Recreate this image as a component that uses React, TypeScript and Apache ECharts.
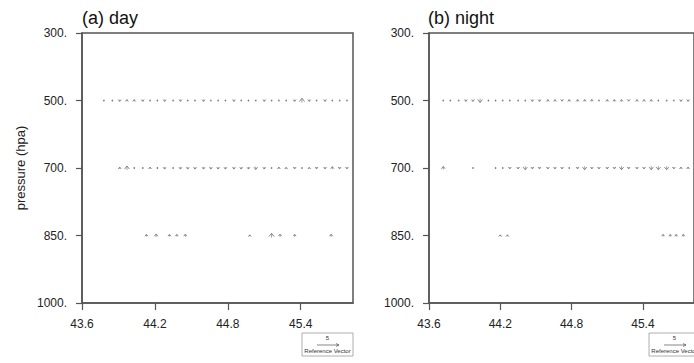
import React, { useEffect, useRef } from "react";
import * as echarts from "echarts";

// pressure levels (category axis, evenly spaced, top to bottom)
const levels = ["300.", "500.", "700.", "850.", "1000."];
// x tick labels
const xTicks = [43.6, 44.2, 44.8, 45.4];
// longitude grid for the 500 / 700 hPa rows
const lonGrid = [43.72, 43.78, 43.85, 43.91, 43.97, 44.03, 44.10, 44.16, 44.22, 44.28, 44.35, 44.41, 44.47, 44.53, 44.60, 44.66, 44.72, 44.78, 44.85, 44.91, 44.97, 45.03, 45.10, 45.16, 45.22, 45.28, 45.35, 45.41, 45.47, 45.53, 45.60, 45.66, 45.72, 45.78];

// vertical component (positive = upward) on lonGrid
const dayW500 = [null, 0.1, 0.1, -0.4, 0.4, 0.4, -0.4, 0.1, 0.1, -0.4, 0.1, -0.4, 0.1, 0.1, -0.4, 0.1, 0.1, 0.1, -0.4, 0.1, 0.1, 0.1, -0.4, 0.1, 0.1, 0.1, -0.4, 1.0, -0.4, 0.1, -0.4, 0.1, 0.1, 0.1];
const dayW700 = [null, null, null, 0.4, 0.9, 0.15, 0.15, 0.4, 0.1, -0.5, 0.1, -0.5, -0.5, -0.5, -0.5, -0.5, -0.5, -0.5, -0.5, -0.5, -0.5, -0.7, -0.5, 0.1, 0.4, 0.3, -0.4, 0.1, 0.3, -0.4, -0.4, 0.6, -0.4, -0.4];
const nightW500 = [0.1, 0.1, 0.1, -0.4, -0.4, -0.9, 0.1, 0.1, 0.1, 0.1, 0.1, 0.1, -0.4, -0.4, 0.4, 0.4, -0.3, 0.4, 0.4, 0.4, 0.5, 0.1, 0.4, 0.4, 0.4, -0.3, 0.4, 0.4, 0.4, 0.1, 0.1, 0.1, -0.4, -0.4];
const nightW700 = [0.7, null, null, null, 0.1, null, null, 0.15, 0.15, -0.4, -0.4, -0.8, -0.4, -0.4, -0.4, -0.4, -0.4, 0.15, -0.4, -0.8, -0.4, -0.4, -0.4, -0.4, -0.8, -0.4, -0.4, -0.4, -0.8, -0.8, -0.8, -0.4, 0.4, 0.4];

// 850 hPa row (sparse)
const dayLon850 = [44.13, 44.21, 44.32, 44.38, 44.45, 44.98, 45.16, 45.23, 45.35, 45.65];
const dayW850 = [0.5, 0.7, 0.5, 0.5, 0.6, 0.3, 1.0, 0.6, 0.5, 0.6];
const nightLon850 = [44.20, 44.26, 45.57, 45.63, 45.68, 45.74];
const nightW850 = [0.3, 0.3, 0.5, 0.5, 0.5, 0.5];

const refMagnitude = 5;
const PX_PER_UNIT = 4.4;
const VEC_COLOR = "#7a7a7a";
const FONT = "'Liberation Sans', Arial, Helvetica, sans-serif";

function rowData(lons: number[], ws: (number | null)[], lev: number) {
  const out: number[][] = [];
  ws.forEach((w, i) => {
    if (w !== null && w !== undefined) out.push([lons[i], lev, w]);
  });
  return out;
}

const dayData = [
  ...rowData(lonGrid, dayW500, 1),
  ...rowData(lonGrid, dayW700, 2),
  ...rowData(dayLon850, dayW850, 3),
];
const nightData = [
  ...rowData(lonGrid, nightW500, 1),
  ...rowData(lonGrid, nightW700, 2),
  ...rowData(nightLon850, nightW850, 3),
];

function renderVector(params: any, api: any) {
  const lon = api.value(0);
  const lev = api.value(1);
  const w = api.value(2);
  const [x, y] = api.coord([lon, lev]);
  const mag = Math.abs(w);
  if (mag < 0.2) {
    return {
      type: "circle",
      shape: { cx: x, cy: y, r: 0.8 },
      style: { fill: VEC_COLOR },
    };
  }
  const len = mag * PX_PER_UNIT;
  const dir = w > 0 ? -1 : 1;
  const tail = y - (dir * len) / 2;
  const tip = y + (dir * len) / 2;
  const hh = Math.min(Math.max(len * 0.75, 1.8), 3.4);
  const hw = hh * 0.8;
  return {
    type: "group",
    children: [
      {
        type: "line",
        shape: { x1: x, y1: tail, x2: x, y2: tip },
        style: { stroke: VEC_COLOR, lineWidth: 0.7 },
      },
      {
        type: "polyline",
        shape: {
          points: [
            [x - hw, tip - dir * hh],
            [x, tip],
            [x + hw, tip - dir * hh],
          ],
        },
        style: { stroke: VEC_COLOR, lineWidth: 0.9, fill: "none" },
      },
    ],
  };
}

const GRID_TOP = 33;
const GRID_H = 270;
const GRID_W = 271;
const GRID_LEFTS = [82, 429];

function refBox(left: number) {
  const bx = left + 220;
  const by = 333;
  const arrowLen = refMagnitude * PX_PER_UNIT;
  const ax = bx + 15;
  const ay = 345;
  return [
    {
      type: "rect",
      shape: { x: bx, y: by, width: 51, height: 23 },
      style: { fill: "#fff", stroke: "#9a9a9a", lineWidth: 0.8 },
    },
    {
      type: "text",
      x: bx + 25.5,
      y: by + 5,
      style: { text: String(refMagnitude), fontSize: 6, fontFamily: FONT, fill: "#333", align: "center", verticalAlign: "middle" },
    },
    {
      type: "line",
      shape: { x1: ax, y1: ay, x2: ax + arrowLen, y2: ay },
      style: { stroke: "#555", lineWidth: 0.7 },
    },
    {
      type: "polyline",
      shape: { points: [[ax + arrowLen - 3, ay - 1.5], [ax + arrowLen, ay], [ax + arrowLen - 3, ay + 1.5]] },
      style: { stroke: "#555", lineWidth: 0.7, fill: "none" },
    },
    {
      type: "text",
      x: bx + 25.5,
      y: by + 18,
      style: { text: "Reference Vector", fontSize: 6, fontFamily: FONT, fill: "#333", align: "center", verticalAlign: "middle" },
    },
  ];
}

export default function App() {
  const ref = useRef<HTMLDivElement>(null);
  useEffect(() => {
    if (!ref.current) return;
    const chart = echarts.init(ref.current, undefined, { renderer: "svg" });
    const axisLine = { show: true, lineStyle: { color: "#555", width: 1.5 } };
    const xAxes = GRID_LEFTS.map((_, i) => ({
      type: "value",
      gridIndex: i,
      min: 43.6,
      max: 45.83,
      axisLine,
      axisTick: { show: true, inside: false, length: 7, customValues: xTicks, lineStyle: { color: "#555", width: 1.2 } },
      axisLabel: {
        customValues: xTicks,
        formatter: (v: number) => v.toFixed(1),
        fontSize: 12,
        fontFamily: FONT,
        color: "#222",
        margin: 15,
      },
      splitLine: { show: false },
    }));
    const yAxes = GRID_LEFTS.map((_, i) => ({
      type: "category",
      gridIndex: i,
      data: levels,
      inverse: true,
      boundaryGap: false,
      axisLine,
      axisTick: { show: true, inside: false, length: 6, lineStyle: { color: "#555", width: 1.2 } },
      axisLabel: { fontSize: 12, fontFamily: FONT, color: "#222", margin: 15 },
      splitLine: { show: false },
      name: i === 0 ? "pressure (hpa)" : "",
      nameLocation: "middle",
      nameRotate: 90,
      nameGap: 55,
      nameTextStyle: { fontSize: 13, fontFamily: FONT, color: "#222" },
    }));
    chart.setOption({
      animation: false,
      backgroundColor: "#fff",
      title: [
        { text: "(a) day", left: 77, top: 4, textStyle: { fontSize: 18, fontWeight: "normal", fontFamily: FONT, color: "#111" } },
        { text: "(b) night", left: 423, top: 4, textStyle: { fontSize: 18, fontWeight: "normal", fontFamily: FONT, color: "#111" } },
      ],
      grid: GRID_LEFTS.map((l) => ({
        left: l,
        top: GRID_TOP,
        width: GRID_W,
        height: GRID_H,
        show: true,
        borderColor: "#555",
        borderWidth: 1.5,
        backgroundColor: "transparent",
        containLabel: false,
      })),
      xAxis: xAxes,
      yAxis: yAxes,
      series: [
        { type: "custom", xAxisIndex: 0, yAxisIndex: 0, data: dayData, renderItem: renderVector, clip: true },
        { type: "custom", xAxisIndex: 1, yAxisIndex: 1, data: nightData, renderItem: renderVector, clip: true },
      ],
      graphic: [...refBox(GRID_LEFTS[0]), ...refBox(GRID_LEFTS[1])],
    });
    return () => chart.dispose();
  }, []);
  return (
    <div
      ref={ref}
      style={{ position: "fixed", left: 0, top: 0, width: 694, height: 363, overflow: "hidden" }}
    />
  );
}
